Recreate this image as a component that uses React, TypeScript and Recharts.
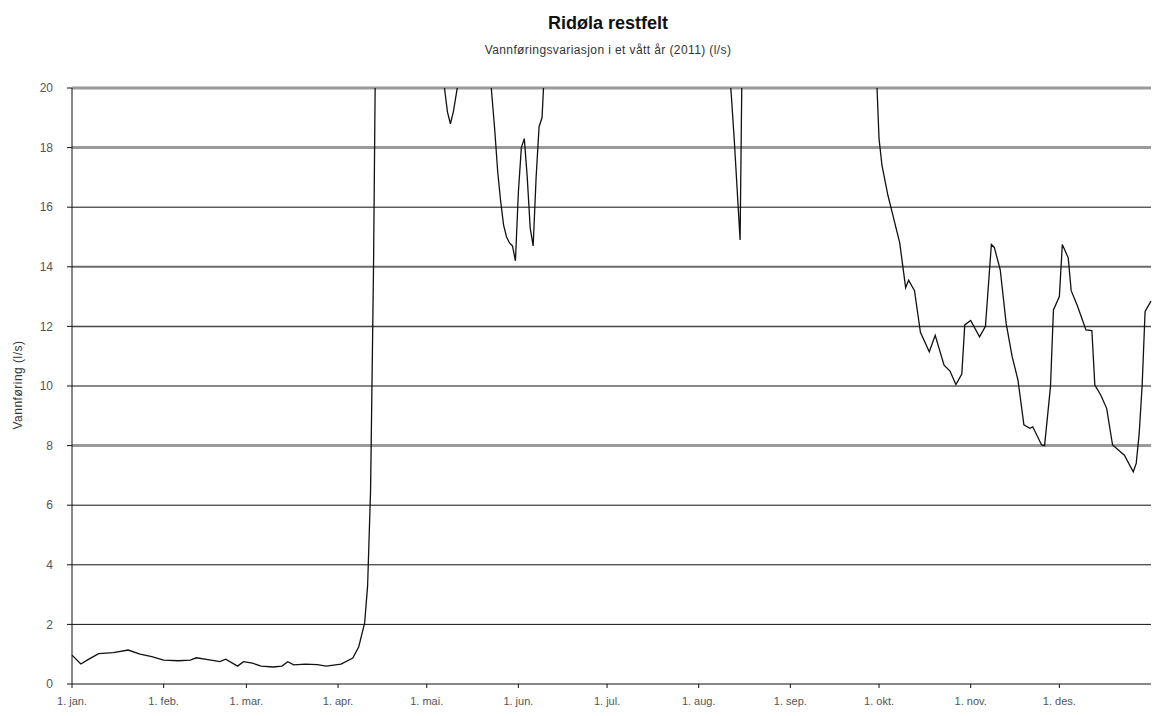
import { LineChart, Line, XAxis, YAxis, ReferenceLine } from "recharts";

// day of year (0 = 1. jan) and flow in l/s
const days = [
  0, 3, 6, 9, 14, 19, 23, 27, 31, 36, 40, 42, 46, 50, 52, 56, 58, 61, 64, 68, 71, 73, 75, 79, 83, 86, 91, 95, 97, 99,
  100, 101, 102, 103, 110, 118, 124, 125, 126, 127, 128, 129, 130, 131, 133, 137, 140, 141, 142, 143, 144, 145, 146,
  147, 148, 149, 150, 151, 152, 153, 154, 155, 156, 157, 158, 159, 160, 170, 190, 210, 220, 222, 223, 224, 225, 226,
  227, 235, 255, 268, 272, 273, 274, 276, 277, 280, 282, 283, 285, 287, 290, 292, 295, 297, 299, 301, 302, 304, 307,
  309, 311, 312, 314, 316, 318, 320, 322, 324, 325, 328, 329, 331, 332, 334, 335, 337, 338, 340, 343, 345, 346, 348,
  350, 352, 356, 359, 360, 361, 362, 363, 365,
];
const flow = [
  0.97, 0.67, 0.85, 1.02, 1.05, 1.14, 1.0, 0.92, 0.8, 0.78, 0.8, 0.88, 0.82, 0.75, 0.83, 0.6, 0.75, 0.7, 0.6, 0.57,
  0.6, 0.75, 0.64, 0.67, 0.65, 0.6, 0.67, 0.87, 1.25, 2.05, 3.3, 6.5, 14, 25, 40, 36, 25, 20.6, 20.0, 19.2, 18.8,
  19.2, 19.8, 20.4, 26, 30, 24, 21, 19.8, 18.6, 17.2, 16.2, 15.4, 15.0, 14.8, 14.7, 14.2, 16.5, 18.0, 18.3, 17.0,
  15.3, 14.7, 17.0, 18.7, 19.0, 21, 30, 28, 26, 24, 21, 19.8, 18.3, 16.6, 14.9, 24, 30, 28, 24, 20.8, 18.3, 17.4,
  16.4, 16.0, 14.8, 13.3, 13.55, 13.2, 11.8, 11.15, 11.7, 10.7, 10.5, 10.05, 10.4, 12.05, 12.2, 11.65, 12.0, 14.75,
  14.65, 13.9, 12.1, 11.0, 10.2, 8.7, 8.58, 8.63, 8.02, 8.0, 9.98, 12.55, 13.0, 14.75, 14.3, 13.2, 12.72, 11.88, 11.86,
  10.03, 9.7, 9.25, 8.02, 7.68, 7.12, 7.4, 8.4, 10.0, 12.5, 12.85,
];
const monthTicks = [0, 31, 59, 90, 120, 151, 181, 212, 243, 273, 304, 334];
const monthLabels = ["jan.", "feb.", "mar.", "apr.", "mai.", "jun.", "jul.", "aug.", "sep.", "okt.", "nov.", "des."];
const yTicks = [0, 2, 4, 6, 8, 10, 12, 14, 16, 18, 20];
const gridLevels = [2, 4, 6, 8, 10, 12, 14, 16, 18, 20];

const data = days.map((d, i) => ({ day: d, flow: flow[i] }));

// the scan shows some grid lines as thicker grey bands
const gridStyle: Record<number, { stroke: string; width: number }> = {
  20: { stroke: "#9a9a9a", width: 3 },
  18: { stroke: "#9a9a9a", width: 3 },
  14: { stroke: "#6a6a6a", width: 2 },
  12: { stroke: "#444", width: 1.5 },
  8: { stroke: "#9a9a9a", width: 3 },
};

const font = "'Liberation Sans', Arial, sans-serif";

export default function App() {
  return (
    <div style={{ position: "absolute", left: 0, top: 0, width: 1153, height: 716, background: "#fff", fontFamily: font }}>
      <div style={{ position: "absolute", left: 0, width: 1216, top: 13, textAlign: "center", fontSize: 18, fontWeight: "bold", color: "#111" }}>
        Ridøla restfelt
      </div>
      <div style={{ position: "absolute", left: 0, width: 1216, top: 43, textAlign: "center", fontSize: 12, color: "#333", letterSpacing: 0.4 }}>
        Vannføringsvariasjon i et vått år (2011) (l/s)
      </div>
      <div
        style={{
          position: "absolute",
          left: 18,
          top: 385,
          transform: "translate(-50%, -50%) rotate(-90deg)",
          fontSize: 12,
          color: "#333",
          whiteSpace: "nowrap",
          letterSpacing: 0.5,
        }}
      >
        Vannføring (l/s)
      </div>
      <LineChart width={1153} height={716} data={data} margin={{ top: 88, right: 2, bottom: 0, left: 0 }}>
        {gridLevels.map((v) => (
          <ReferenceLine
            key={v}
            y={v}
            stroke={gridStyle[v]?.stroke ?? "#111"}
            strokeWidth={gridStyle[v]?.width ?? 1}
            ifOverflow="visible"
          />
        ))}
        <XAxis
          dataKey="day"
          type="number"
          domain={[0, 365]}
          ticks={monthTicks}
          tickFormatter={(v: number) => "1. " + monthLabels[monthTicks.indexOf(v)]}
          interval={0}
          height={32}
          tickSize={4}
          tickMargin={9}
          stroke="#111"
          tick={{ fontSize: 11, fill: "#555", fontFamily: font }}
        />
        <YAxis
          type="number"
          domain={[0, 20]}
          ticks={yTicks}
          allowDataOverflow
          width={72}
          tickSize={5}
          tickMargin={14}
          stroke="#111"
          tick={{ fontSize: 12, fill: "#555", fontFamily: font }}
        />
        <Line
          type="linear"
          dataKey="flow"
          stroke="#111"
          strokeWidth={1.3}
          dot={false}
          isAnimationActive={false}
        />
      </LineChart>
    </div>
  );
}
